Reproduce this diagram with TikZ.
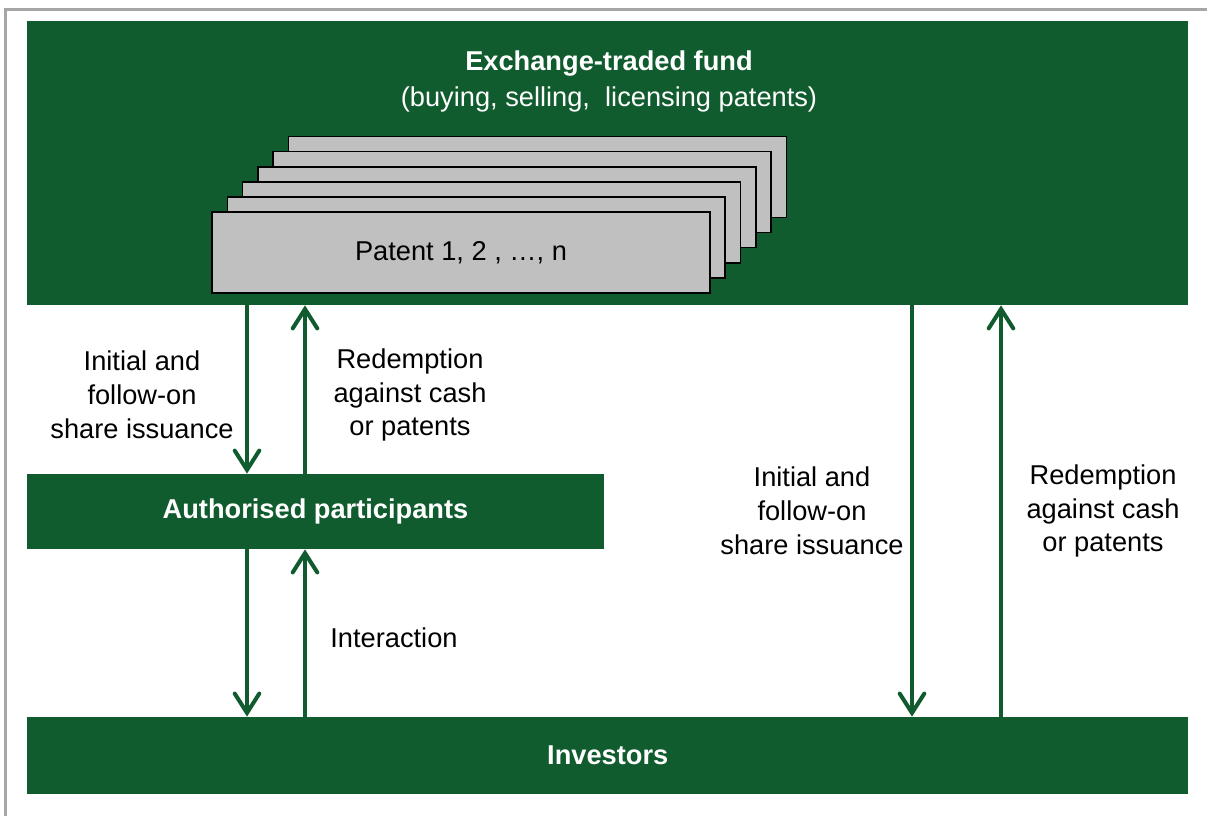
\documentclass[tikz,border=0pt]{standalone}
\usepackage{fontspec}
\setmainfont{Liberation Sans}
\usetikzlibrary{arrows.meta}
\definecolor{etfgreen}{HTML}{115C2F}
\definecolor{patentgrey}{HTML}{C0C0C0}
\definecolor{framegrey}{HTML}{A6A6A6}
\tikzstyle{greenbox} = [rectangle, minimum height=1.5cm, text centered, draw=none, fill=etfgreen, text=white, font=\fontsize{15.5}{19}\selectfont\bfseries]
\tikzstyle{patent} = [rectangle, minimum width=9.96cm, minimum height=1.62cm, text centered, draw=black, line width=0.9pt, fill=patentgrey]
\tikzstyle{label} = [align=center, font=\fontsize{15.5}{19.3}\selectfont]
\tikzstyle{arrow} = [draw=etfgreen, line width=2.3pt, -{Straight Barb[length=11pt, width=14pt, line cap=round]}]

\begin{document}
\begin{tikzpicture}[x=0.02cm, y=-0.02cm]
        \useasboundingbox (0,0) rectangle (1207,816);
        \draw [framegrey, line width=1.7pt] (5.5,816) -- (5.5,9) -- (1207,9);

        \node (etf) [greenbox, minimum width=23.23cm, minimum height=5.68cm] at (607.75,163) {};
        \node (ap) [greenbox, minimum width=11.54cm] at (315.5,511.5) {Authorised participants};
        \node (inv) [greenbox, minimum width=23.23cm, minimum height=1.53cm] at (607.75,755.25) {Investors};

        \node (etftitle) [label, text=white, font=\fontsize{15.5}{20.5}\selectfont] at (609,81) {\textbf{Exchange-traded fund}\\(buying, selling,\ \ licensing patents)};

        \foreach \i in {5,...,1}
            \node (pat\i) [patent] at (461+15.3*\i, 252.5-15.1*\i) {};
        \node (pat0) [patent, label] at (461,252.5) {Patent 1, 2 , …, n};

        \coordinate (xa) at (247,0);
        \coordinate (xb) at (305,0);
        \coordinate (xc) at (912,0);
        \coordinate (xd) at (1001,0);

        \draw [arrow] (xa |- etf.south) -- (xa |- ap.north);
        \draw [arrow] (xb |- ap.north) -- (xb |- etf.south);
        \draw [arrow] (xa |- ap.south) -- (xa |- inv.north);
        \draw [arrow] (xb |- inv.north) -- (xb |- ap.south);
        \draw [arrow] (xc |- etf.south) -- (xc |- inv.north);
        \draw [arrow] (xd |- inv.north) -- (xd |- etf.south);

        \node (issue1) [label] at (142,395) {Initial and\\follow-on\\share issuance};
        \node (redeem1) [label] at (410,395) {Redemption\\against cash\\or patents};
        \node (interact) [label] at (394,638) {Interaction};
        \node (issue2) [label] at (812,511) {Initial and\\follow-on\\share issuance};
        \node (redeem2) [label] at (1103,511) {Redemption\\against cash\\or patents};
\end{tikzpicture}
\end{document}
